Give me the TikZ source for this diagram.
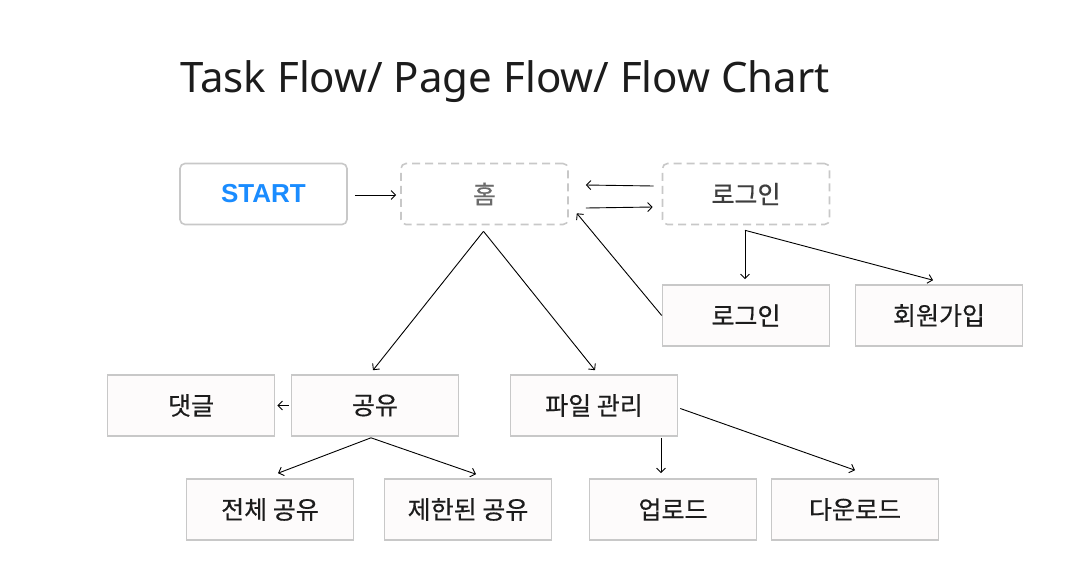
\documentclass[tikz,border=0pt]{standalone}
\usepackage{fontspec}
\setmainfont{Noto Sans}
\newfontfamily\kr{Noto Sans CJK KR}[FakeBold=0.5]
\newfontfamily\boldsans{Liberation Sans}
\usetikzlibrary{arrows.meta,calc}
\definecolor{bordergray}{HTML}{C8C8C8}
\definecolor{boxfill}{HTML}{FDFBFB}
\definecolor{startblue}{HTML}{1A8CFF}
\definecolor{textdark}{HTML}{1C1C1C}
\definecolor{homegray}{HTML}{6B6B6B}
\tikzset{
  base/.style={minimum width=167pt, minimum height=61pt, inner sep=0pt, line width=1.6pt, draw=bordergray, font=\kr\fontsize{25}{25}\selectfont, text=textdark},
  plainbox/.style={base, fill=boxfill},
  roundbox/.style={base, fill=white, rounded corners=5pt},
  dashbox/.style={roundbox, dash pattern=on 8pt off 5pt},
  conn/.style={line width=0.9pt, draw=black, -{Straight Barb[length=4.5pt,width=9pt]}},
  line/.style={line width=0.9pt, draw=black}
}
\begin{document}
\begin{tikzpicture}[x=1pt,y=-1pt]
\useasboundingbox (0,0) rectangle (1091,584);
\node[anchor=base west, font=\fontsize{42}{42}\selectfont, text=textdark, inner sep=0pt] (title) at (180,92) {Task Flow/ Page Flow/ Flow Chart};
\node[roundbox, font=\boldsans\fontsize{26}{26}\bfseries\selectfont, text=startblue] (start) at (263.5,194) {START};
\node[dashbox, text=homegray] (home) at (484.5,194) {홈};
\node[dashbox, text=textdark!85] (login) at (746,194) {로그인};
\node[plainbox] (login2) at (746,315.5) {로그인};
\node[plainbox] (signup) at (939,315.5) {회원가입};
\node[plainbox] (comment) at (191,405.5) {댓글};
\node[plainbox] (share) at (375,405.5) {공유};
\node[plainbox] (file) at (594,405.5) {파일 관리};
\node[plainbox] (allshare) at (270,509.5) {전체 공유};
\node[plainbox] (limshare) at (468,509.5) {제한된 공유};
\node[plainbox] (upload) at (673,509.5) {업로드};
\node[plainbox] (download) at (855,509.5) {다운로드};
% connectors
\draw[conn] ($(start.east)+(7,1)$) -- ($(home.west)+(-4,1)$);
\draw[conn] ($(login.west)+(-8,-8)$) -- ($(home.east)+(17,-9)$);
\draw[conn] ($(home.east)+(17,14)$) -- ($(login.west)+(-9,13)$);
\draw[conn] (login2.west) -- ($(home.south east)+(8,-12)$);
\coordinate (hb) at ($(home.south)+(-1,6)$);
\draw[conn] (hb) -- ($(share.north)+(-2,-4)$);
\draw[conn] (hb) -- ($(file.north)+(1,-4)$);
\coordinate (lb) at ($(login.south)+(-1,5)$);
\draw[conn] (lb) -- ($(login2.north)+(-1,-5)$);
\draw[conn] (lb) -- ($(signup.north)+(-6,-4)$);
\draw[conn] ($(share.west)+(-2,0)$) -- ($(comment.east)+(2,0)$);
\coordinate (sb) at ($(share.south)+(-4,1)$);
\draw[conn] (sb) -- ($(allshare.north)+(8,-5)$);
\draw[conn] (sb) -- ($(limshare.north)+(8,-4)$);
\draw[conn] ($(file.south)+(67,1)$) -- ($(upload.north)+(-12,-5)$);
\draw[conn] ($(file.east)+(2,3)$) -- ($(download.north)+(0,-8)$);
\end{tikzpicture}
\end{document}
